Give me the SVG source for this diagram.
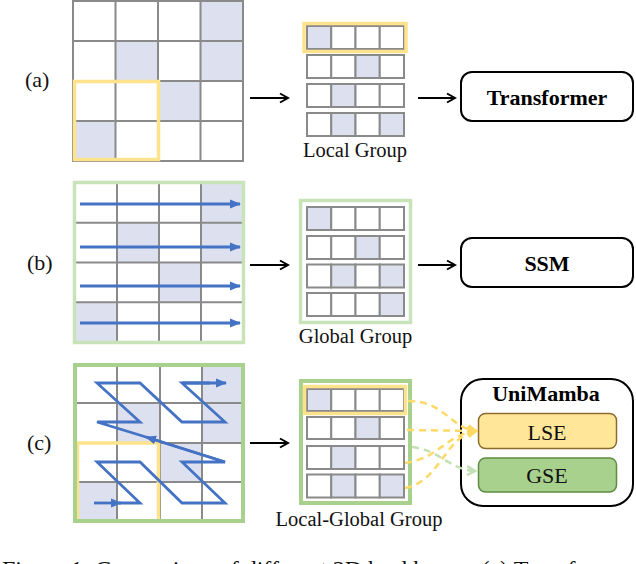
<svg xmlns="http://www.w3.org/2000/svg" width="636" height="564" viewBox="0 0 636 564">
<style>
.cell{fill:#ffffff;stroke:#8a8a8a;stroke-width:2}
.sh{fill:#dde0ef;stroke:#8a8a8a;stroke-width:2}
.gl{stroke:#8a8a8a;stroke-width:2;fill:none}
.yb{fill:none;stroke:#ffe38c;stroke-width:3.5}
.gb1{fill:none;stroke:#c9e3b8;stroke-width:3.5}
.gb2{fill:none;stroke:#a9d18e;stroke-width:4}
.lbl{font-family:"Liberation Serif",serif;font-size:22px;fill:#111}
.cap{font-family:"Liberation Serif",serif;font-size:20.5px;fill:#111;text-anchor:middle}
.bold{font-family:"Liberation Serif",serif;font-size:22px;font-weight:bold;fill:#000;text-anchor:middle}
.mid{font-family:"Liberation Serif",serif;font-size:22px;fill:#111;text-anchor:middle}
.box{fill:#fff;stroke:#000;stroke-width:2}
.arr{stroke:#000;stroke-width:2;fill:none;marker-end:url(#ah)}
.blue{stroke:#4472c4;stroke-width:2.8;fill:none;stroke-linejoin:miter}
.ydash{stroke:#ffd966;stroke-width:2.5;fill:none;stroke-dasharray:7 5;marker-end:url(#yh)}
.gdash{stroke:#c5e0b4;stroke-width:2.5;fill:none;stroke-dasharray:7 5;marker-end:url(#gh)}
</style>
<defs>
<marker id="ah" markerUnits="userSpaceOnUse" markerWidth="12" markerHeight="12" refX="10" refY="6" orient="auto"><path d="M2,1.5 L10,6 L2,10.5" fill="none" stroke="#000" stroke-width="2"/></marker>
<marker id="bh" markerUnits="userSpaceOnUse" markerWidth="12" markerHeight="10" refX="10" refY="5" orient="auto"><path d="M0,0.5 L11,5 L0,9.5 z" fill="#4472c4"/></marker>
<marker id="yh" markerUnits="userSpaceOnUse" markerWidth="12" markerHeight="12" refX="10" refY="6" orient="auto"><path d="M2,1.5 L10,6 L2,10.5" fill="none" stroke="#ffd966" stroke-width="2.5"/></marker>
<marker id="gh" markerUnits="userSpaceOnUse" markerWidth="12" markerHeight="12" refX="10" refY="6" orient="auto"><path d="M2,1.5 L10,6 L2,10.5" fill="none" stroke="#c5e0b4" stroke-width="2.5"/></marker>
</defs>
<rect width="636" height="564" fill="#fff"/>

<!-- Panel (a) -->
<text class="lbl" x="25" y="87">(a)</text>
<g id="grid-a">
<rect x="73" y="1" width="170" height="160" fill="#fff"/>
<rect x="200.5" y="1" width="42.5" height="40" fill="#dde0ef"/>
<rect x="115.5" y="41" width="42.5" height="40" fill="#dde0ef"/>
<rect x="200.5" y="41" width="42.5" height="40" fill="#dde0ef"/>
<rect x="158" y="81" width="42.5" height="40" fill="#dde0ef"/>
<rect x="73" y="121" width="42.5" height="40" fill="#dde0ef"/>
<path class="gl" d="M73,1 H243 V161 H73 Z M115.5,1 V161 M158,1 V161 M200.5,1 V161 M73,41 H243 M73,81 H243 M73,121 H243"/>
<rect class="yb" x="74.5" y="81.5" width="84" height="78"/>
</g>
<g id="local-group">
<g transform="translate(307,26)">
<rect class="sh" x="0" y="0" width="24.25" height="23"/><rect class="cell" x="24.25" y="0" width="24.25" height="23"/><rect class="cell" x="48.5" y="0" width="24.25" height="23"/><rect class="cell" x="72.75" y="0" width="24.25" height="23"/>
</g>
<rect class="yb" x="304" y="23.5" width="102" height="28"/>
<g transform="translate(307,55)">
<rect class="cell" x="0" y="0" width="24.25" height="23"/><rect class="cell" x="24.25" y="0" width="24.25" height="23"/><rect class="sh" x="48.5" y="0" width="24.25" height="23"/><rect class="cell" x="72.75" y="0" width="24.25" height="23"/>
</g>
<g transform="translate(307,84)">
<rect class="cell" x="0" y="0" width="24.25" height="23"/><rect class="sh" x="24.25" y="0" width="24.25" height="23"/><rect class="cell" x="48.5" y="0" width="24.25" height="23"/><rect class="cell" x="72.75" y="0" width="24.25" height="23"/>
</g>
<g transform="translate(307,113)">
<rect class="cell" x="0" y="0" width="24.25" height="23"/><rect class="sh" x="24.25" y="0" width="24.25" height="23"/><rect class="cell" x="48.5" y="0" width="24.25" height="23"/><rect class="sh" x="72.75" y="0" width="24.25" height="23"/>
</g>
<text class="cap" x="355" y="157">Local Group</text>
</g>
<g id="transformer">
<rect class="box" x="461" y="72" width="172" height="49" rx="11"/>
<text class="bold" x="547" y="105">Transformer</text>
</g>

<!-- Panel (b) -->
<text class="lbl" x="27" y="270">(b)</text>
<g id="grid-b">
<rect x="75" y="183" width="168" height="159" fill="#fff"/>
<rect x="201" y="183" width="42" height="39.75" fill="#dde0ef"/>
<rect x="117" y="222.75" width="42" height="39.75" fill="#dde0ef"/>
<rect x="201" y="222.75" width="42" height="39.75" fill="#dde0ef"/>
<rect x="159" y="262.5" width="42" height="39.75" fill="#dde0ef"/>
<rect x="75" y="302.25" width="42" height="39.75" fill="#dde0ef"/>
<path class="gl" d="M117,183 V342 M159,183 V342 M201,183 V342 M75,222.75 H243 M75,262.5 H243 M75,302.25 H243"/>
<rect class="gb1" x="74.5" y="182.5" width="169" height="160"/>
<path class="blue" marker-end="url(#bh)" d="M80,204 H240"/>
<path class="blue" marker-end="url(#bh)" d="M80,247 H240"/>
<path class="blue" marker-end="url(#bh)" d="M80,286 H240"/>
<path class="blue" marker-end="url(#bh)" d="M80,323 H240"/>
</g>
<g id="global-group">
<rect class="gb1" x="300.5" y="200.5" width="110" height="122"/>
<g transform="translate(307,207)">
<rect class="sh" x="0" y="0" width="24.25" height="23"/><rect class="cell" x="24.25" y="0" width="24.25" height="23"/><rect class="cell" x="48.5" y="0" width="24.25" height="23"/><rect class="cell" x="72.75" y="0" width="24.25" height="23"/>
</g>
<g transform="translate(307,236)">
<rect class="cell" x="0" y="0" width="24.25" height="23"/><rect class="cell" x="24.25" y="0" width="24.25" height="23"/><rect class="sh" x="48.5" y="0" width="24.25" height="23"/><rect class="cell" x="72.75" y="0" width="24.25" height="23"/>
</g>
<g transform="translate(307,264.5)">
<rect class="cell" x="0" y="0" width="24.25" height="23"/><rect class="sh" x="24.25" y="0" width="24.25" height="23"/><rect class="cell" x="48.5" y="0" width="24.25" height="23"/><rect class="sh" x="72.75" y="0" width="24.25" height="23"/>
</g>
<g transform="translate(307,293)">
<rect class="cell" x="0" y="0" width="24.25" height="23"/><rect class="cell" x="24.25" y="0" width="24.25" height="23"/><rect class="cell" x="48.5" y="0" width="24.25" height="23"/><rect class="sh" x="72.75" y="0" width="24.25" height="23"/>
</g>
<text class="cap" x="355.5" y="343">Global Group</text>
</g>
<g id="ssm">
<rect class="box" x="461" y="238" width="172" height="49" rx="11"/>
<text class="bold" x="547" y="271">SSM</text>
</g>

<!-- Panel (c) -->
<text class="lbl" x="27" y="450">(c)</text>
<g id="grid-c">
<rect x="75" y="365" width="168" height="156" fill="#fff"/>
<rect x="202" y="365" width="41" height="38" fill="#dde0ef"/>
<rect x="117" y="403" width="43" height="40" fill="#dde0ef"/>
<rect x="202" y="403" width="41" height="40" fill="#dde0ef"/>
<rect x="160" y="443" width="42" height="39" fill="#dde0ef"/>
<rect x="75" y="482" width="42" height="39" fill="#dde0ef"/>
<path class="gl" d="M117,365 V521 M160,365 V521 M202,365 V521 M75,403 H243 M75,443 H243 M75,482 H243"/>
<rect class="yb" x="77.5" y="443" width="81" height="78"/>
<rect class="gb2" x="75" y="365" width="168" height="156"/>
<path class="blue" marker-end="url(#bh)" d="M94,503 H121"/>
<path class="blue" d="M119,503 H140 L97,462 H140 L182,503 H225 L182,462 H225 L146,437"/>
<path class="blue" marker-end="url(#bh)" d="M225,462 L146,437"/>
<path class="blue" d="M146,437 L97,422 H140 L97,383 H140 L182,422 H225 L182,383 H210"/>
<path class="blue" marker-end="url(#bh)" d="M182,383 H226"/>
</g>
<g id="local-global-group">
<rect class="gb2" x="301" y="381" width="109" height="122"/>
<g transform="translate(307,389)">
<rect class="sh" x="0" y="0" width="24.25" height="22"/><rect class="cell" x="24.25" y="0" width="24.25" height="22"/><rect class="cell" x="48.5" y="0" width="24.25" height="22"/><rect class="cell" x="72.75" y="0" width="24.25" height="22"/>
</g>
<rect class="yb" x="304.5" y="386.5" width="101" height="27"/>
<g transform="translate(307,417)">
<rect class="cell" x="0" y="0" width="24.25" height="22"/><rect class="cell" x="24.25" y="0" width="24.25" height="22"/><rect class="sh" x="48.5" y="0" width="24.25" height="22"/><rect class="cell" x="72.75" y="0" width="24.25" height="22"/>
</g>
<g transform="translate(307,446)">
<rect class="cell" x="0" y="0" width="24.25" height="23"/><rect class="sh" x="24.25" y="0" width="24.25" height="23"/><rect class="cell" x="48.5" y="0" width="24.25" height="23"/><rect class="cell" x="72.75" y="0" width="24.25" height="23"/>
</g>
<g transform="translate(307,474.5)">
<rect class="cell" x="0" y="0" width="24.25" height="23"/><rect class="sh" x="24.25" y="0" width="24.25" height="23"/><rect class="cell" x="48.5" y="0" width="24.25" height="23"/><rect class="sh" x="72.75" y="0" width="24.25" height="23"/>
</g>
<text class="cap" x="359" y="526">Local-Global Group</text>
</g>
<g id="unimamba">
<rect class="box" x="461" y="379" width="172" height="127" rx="22"/>
<text class="bold" x="546" y="401">UniMamba</text>
</g>
<g id="lse">
<rect x="478.5" y="413.5" width="138" height="35" rx="7" fill="#ffe699" stroke="#8d6b2e" stroke-width="1.5"/>
<text class="mid" x="547" y="440">LSE</text>
</g>
<g id="gse">
<rect x="478.5" y="458" width="138" height="34" rx="7" fill="#a9d18e" stroke="#5e8c43" stroke-width="1.5"/>
<text class="mid" x="547" y="483">GSE</text>
</g>

<g id="connectors">
<path class="arr" d="M250,98 H288"/>
<path class="arr" d="M418,98 H455"/>
<path class="arr" d="M250,265 H288"/>
<path class="arr" d="M418,265 H455"/>
<path class="arr" d="M250,443 H288"/>
<path class="gdash" d="M412,447 C440,450 450,470 475,471"/>
<path class="ydash" d="M408,401 C445,401 450,428 476,431"/>
<path class="ydash" d="M407,430 L476,431"/>
<path class="ydash" d="M405,463 C440,458 445,435 476,431"/>
<path class="ydash" d="M405,488 C440,482 445,436 476,431"/>
</g>

<text x="2" y="577" style="font-family:'Liberation Serif',serif;font-size:24px;fill:#111">Figure 1: Comparison of different 2D backbones. (a) Transfor</text>
</svg>
